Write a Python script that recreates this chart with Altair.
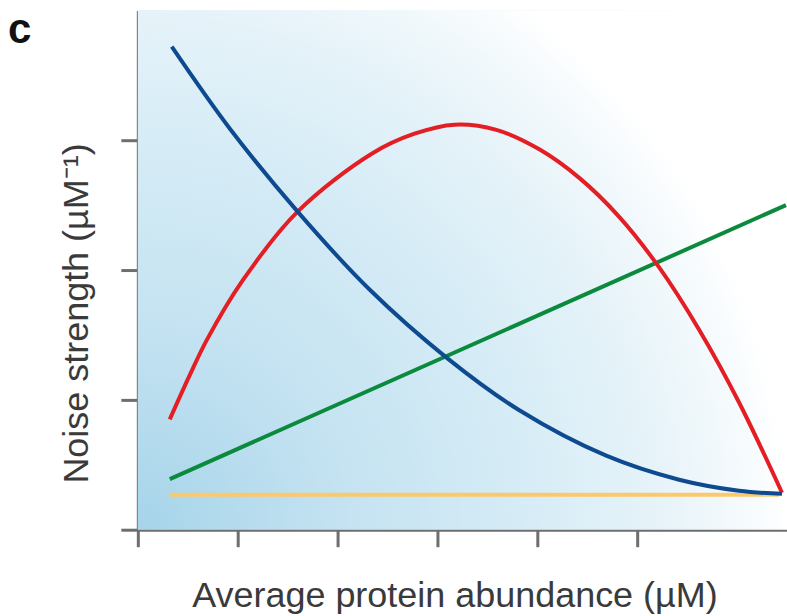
import altair as alt
import pandas as pd

# ---- data (x: abundance units, y: noise-strength units) ----
blue_x = [0.34, 0.92, 1.60, 2.32, 3.10, 3.82, 4.69, 5.42, 6.02, 6.45]
blue_y = [3.72, 3.09, 2.45, 1.85, 1.32, 0.92, 0.57, 0.385, 0.30, 0.277]

red_x = [0.32, 0.52, 0.69, 1.05, 1.60, 2.35, 2.77, 3.17, 3.59, 4.02, 4.42, 4.82, 5.22, 5.62, 6.02, 6.45]
red_y = [0.85, 1.19, 1.46, 1.92, 2.45, 2.90, 3.05, 3.12, 3.08, 2.93, 2.71, 2.41, 2.02, 1.54, 0.98, 0.285]

green_x = [0.32, 6.49]
green_y = [0.39, 2.50]

yellow_x = [0.32, 6.42]
yellow_y = [0.27, 0.27]

series_names = ["blue", "red", "green", "yellow"]
series_colors = ["#0d4a8f", "#e31e24", "#0b8a3d", "#fbc96b"]

x_ticks = [0, 1, 2, 3, 4, 5]
y_ticks = [0, 1, 2, 3]
x_domain = [0, 6.5]
y_domain = [0, 4]

panel_label = "c"
x_title = "Average protein abundance (µM)"
y_title = "Noise strength (µM⁻¹)"

rows = []
for name, xs, ys in [("yellow", yellow_x, yellow_y), ("green", green_x, green_y),
                     ("red", red_x, red_y), ("blue", blue_x, blue_y)]:
    for i, (a, b) in enumerate(zip(xs, ys)):
        rows.append({"series": name, "x": a, "y": b, "order": i})
df = pd.DataFrame(rows)

W, H = 650, 520

background = alt.Chart(pd.DataFrame({"a": [0]})).mark_rect(
    fill=alt.Gradient(
        gradient="radial",
        stops=[
            alt.GradientStop(color="#a6d4ea", offset=0),
            alt.GradientStop(color="#c3e2f1", offset=0.3),
            alt.GradientStop(color="#d6ecf6", offset=0.6),
            alt.GradientStop(color="#e6f3f9", offset=0.8),
            alt.GradientStop(color="#f7fbfd", offset=0.95),
            alt.GradientStop(color="#ffffff", offset=1.0),
        ],
        x1=0, y1=0.9, r1=0, x2=0, y2=0.9, r2=1.0,
    ),
    strokeWidth=0,
).encode(x=alt.value(0), x2=alt.value(W), y=alt.value(0), y2=alt.value(H))

axis_common = dict(
    labels=False, grid=False,
    domainColor="#6e6e6e", domainWidth=3,
    tickColor="#6e6e6e", tickWidth=3, tickSize=17,
    titleFont="Liberation Sans", titleFontSize=36, titleFontWeight="normal",
    titleColor="#3a3a3a",
)

lines = alt.Chart(df).mark_line(strokeWidth=4, interpolate="catmull-rom", clip=True).encode(
    x=alt.X("x:Q", scale=alt.Scale(domain=x_domain, nice=False, zero=False),
            axis=alt.Axis(values=x_ticks, title=x_title, titleX=317, titleY=77,
                          titleAlign="center", titleBaseline="alphabetic", **axis_common)),
    y=alt.Y("y:Q", scale=alt.Scale(domain=y_domain, nice=False, zero=False),
            axis=alt.Axis(values=y_ticks, title=y_title, titleX=-50, titleY=303,
                          titleAngle=270, titleAlign="center", titleBaseline="alphabetic",
                          **axis_common)),
    color=alt.Color("series:N", scale=alt.Scale(domain=series_names, range=series_colors),
                    legend=None),
    order="order:Q",
    detail="series:N",
)

label = alt.Chart(pd.DataFrame({"t": [panel_label]})).mark_text(
    font="Liberation Sans", fontSize=42, fontWeight="bold", color="#111111",
    align="left", baseline="alphabetic",
).encode(text="t:N", x=alt.value(-130), y=alt.value(33))

chart = alt.layer(background, lines, label).properties(
    width=W, height=H,
    autosize=alt.AutoSizeParams(type="none"),
    padding={"left": 138, "top": 10, "right": 0, "bottom": 86},
).configure_view(stroke=None)

chart.save("out.html", embed_options={"renderer": "svg", "actions": False})
